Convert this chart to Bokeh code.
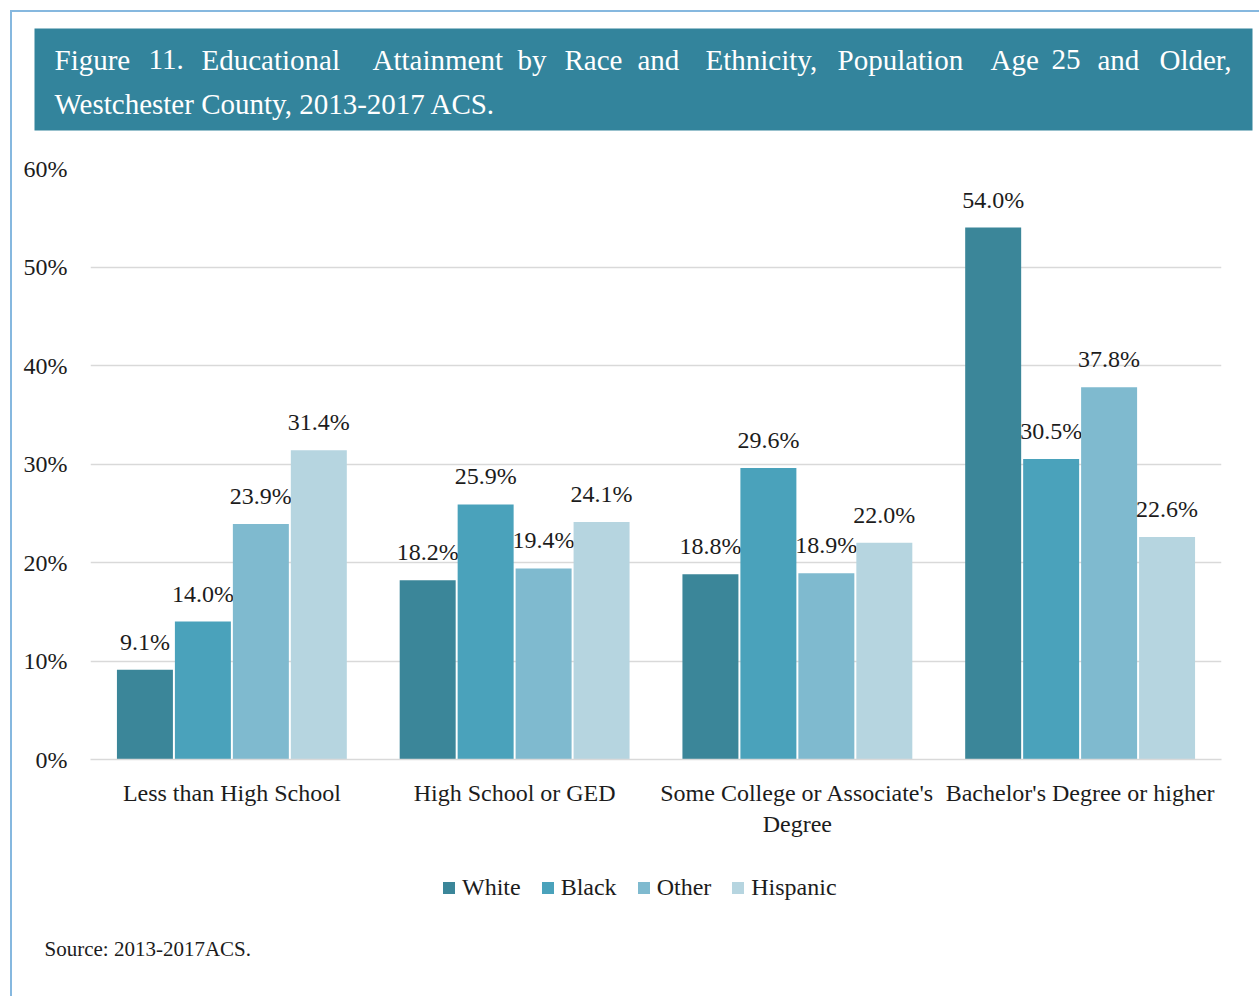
from bokeh.plotting import figure
from bokeh.layouts import column
from bokeh.models import (ColumnDataSource, FactorRange, Range1d, Legend, LegendItem,
                          PrintfTickFormatter, FixedTicker)
from bokeh.transform import dodge
from bokeh.core.properties import value
from bokeh.embed import file_html
from bokeh.resources import INLINE

# ---------------- data ----------------
categories = ["Less than High School", "High School or GED",
              "Some College or Associate's\nDegree", "Bachelor's Degree or higher"]
series_names = ["White", "Black", "Other", "Hispanic"]
white = [9.1, 18.2, 18.8, 54.0]
black = [14.0, 25.9, 29.6, 30.5]
other = [23.9, 19.4, 18.9, 37.8]
hispanic = [31.4, 24.1, 22.0, 22.6]
y_ticks = [0, 10, 20, 30, 40, 50, 60]

title_line1 = ["Figure", "11.", "Educational", "Attainment", "by", "Race", "and",
               "Ethnicity,", "Population", "Age", "25", "and", "Older,"]
title_line2 = "Westchester County, 2013-2017 ACS."
source_note = "Source: 2013-2017ACS."

# ---------------- styles / layout ----------------
colors = ["#3b8699", "#4aa2bb", "#7fbacf", "#b6d5e0"]
FONT = "Liberation Serif"
TXT = "#1c1c1c"
TITLE_BG = "#33849c"
EDGE = "#86b8df"

W, H = 1259, 996
OFF = 12                      # page offset of content (10px margin + 2px border)
CW = W - OFF                  # content width
HDR_END = 150                 # page y where the header figure ends
MAIN_END = 850                # page y where the main chart figure ends

# title layout (page pixels)
word_x = [54, 148, 201, 372, 517, 564, 637, 705, 837, 990, 1051, 1097, 1159]
box_l, box_r, box_t, box_b = 34, 1252, 28, 130
line1_y, line2_y, line2_x = 59, 103, 54
legend_left, legend_bottom = 441, 901
source_x, source_y = 44, 948

def frame_fig(h, y0, y1):
    f = figure(width=CW, height=h, x_range=Range1d(OFF, W), y_range=Range1d(y1, y0),
               x_axis_type=None, y_axis_type=None, output_backend="svg",
               toolbar_location=None, min_border=0, frame_align=False)
    f.outline_line_color = None
    f.grid.visible = False
    return f

# ---------------- header figure ----------------
hdr = frame_fig(HDR_END - OFF, OFF, HDR_END)
hdr.quad(left=[box_l], right=[box_r], top=[box_t], bottom=[box_b],
         fill_color=TITLE_BG, line_color=None)
hdr.text(x=word_x, y=[line1_y] * len(word_x), text=title_line1,
         text_font=value(FONT), text_font_size="29px", text_color="white",
         text_baseline="middle", text_align="left")
hdr.text(x=[line2_x], y=[line2_y], text=[title_line2],
         text_font=value(FONT), text_font_size="29px", text_color="white",
         text_baseline="middle", text_align="left")

# ---------------- main chart ----------------
data = {"cat": categories, "White": white, "Black": black, "Other": other, "Hispanic": hispanic}
for name, vals in zip(series_names, [white, black, other, hispanic]):
    data[name + "_lbl"] = [f"{v:.1f}%" for v in vals]
src = ColumnDataSource(data)

# frame on page: x 90..1221, y 168..759
p = figure(width=CW, height=MAIN_END - HDR_END, x_range=FactorRange(*categories, range_padding=0),
           y_range=Range1d(0, 60), output_backend="svg", toolbar_location=None,
           min_border_left=90 - OFF, min_border_right=W - 1221,
           min_border_top=168 - HDR_END, min_border_bottom=MAIN_END - 759, frame_align=False)
p.outline_line_color = None
p.background_fill_color = "white"
p.border_fill_color = "white"

offsets = [-0.3075, -0.1025, 0.1025, 0.3075]
for name, off, col in zip(series_names, offsets, colors):
    p.vbar(x=dodge("cat", off, range=p.x_range), top=name, width=0.198, bottom=0,
           source=src, fill_color=col, line_color=None)
    p.text(x=dodge("cat", off, range=p.x_range), y=name, text=name + "_lbl", source=src,
           text_font=value(FONT), text_font_size="24px", text_align="center",
           text_baseline="alphabetic", y_offset=-28, text_color=TXT)

p.yaxis.ticker = FixedTicker(ticks=y_ticks)
p.yaxis.formatter = PrintfTickFormatter(format="%d%%")
p.yaxis.axis_line_color = None
p.yaxis.major_tick_line_color = None
p.yaxis.minor_tick_line_color = None
p.yaxis.major_tick_out = 0
p.yaxis.major_tick_in = 0
p.yaxis.major_label_standoff = 23
p.yaxis.major_label_text_font = FONT
p.yaxis.major_label_text_font_size = "24px"
p.yaxis.major_label_text_color = TXT

p.xaxis.axis_line_color = "#d9d9d9"
p.xaxis.axis_line_width = 1.5
p.xaxis.major_tick_line_color = None
p.xaxis.minor_tick_line_color = None
p.xaxis.major_tick_out = 0
p.xaxis.major_tick_in = 0
p.xaxis.major_label_standoff = 20
p.xaxis.major_label_text_font = FONT
p.xaxis.major_label_text_font_size = "24px"
p.xaxis.major_label_text_color = TXT

p.xgrid.grid_line_color = None
p.ygrid.grid_line_color = "#d9d9d9"
p.ygrid.grid_line_width = 1.5

# ---------------- footer: legend + source ----------------
ftr = frame_fig(H - MAIN_END, MAIN_END, H)
nan = float("nan")
items = []
for name, col in zip(series_names, colors):
    # swatch-only renderer (a single NaN point draws nothing in the plot area)
    r = ftr.vbar(x=[nan], top=[nan], width=1, fill_color=col, line_color=None)
    items.append(LegendItem(label=name, renderers=[r]))
legend = Legend(items=items, orientation="horizontal",
                location=(legend_left - OFF, H - legend_bottom),
                glyph_width=15, glyph_height=15, label_standoff=6, spacing=19,
                padding=0, margin=0, border_line_color=None, background_fill_alpha=0,
                label_text_font=FONT, label_text_font_size="24px", label_text_color=TXT)
ftr.add_layout(legend, "center")
ftr.text(x=[source_x], y=[source_y], text=[source_note],
         text_font=value(FONT), text_font_size="21px", text_color=TXT,
         text_baseline="middle", text_align="left")

layout = column(hdr, p, ftr, spacing=0, margin=(10, 0, 0, 10),
                styles={"border-left": f"2px solid {EDGE}", "border-top": f"2px solid {EDGE}"})

open("out.html", "w").write(file_html(layout, INLINE))
